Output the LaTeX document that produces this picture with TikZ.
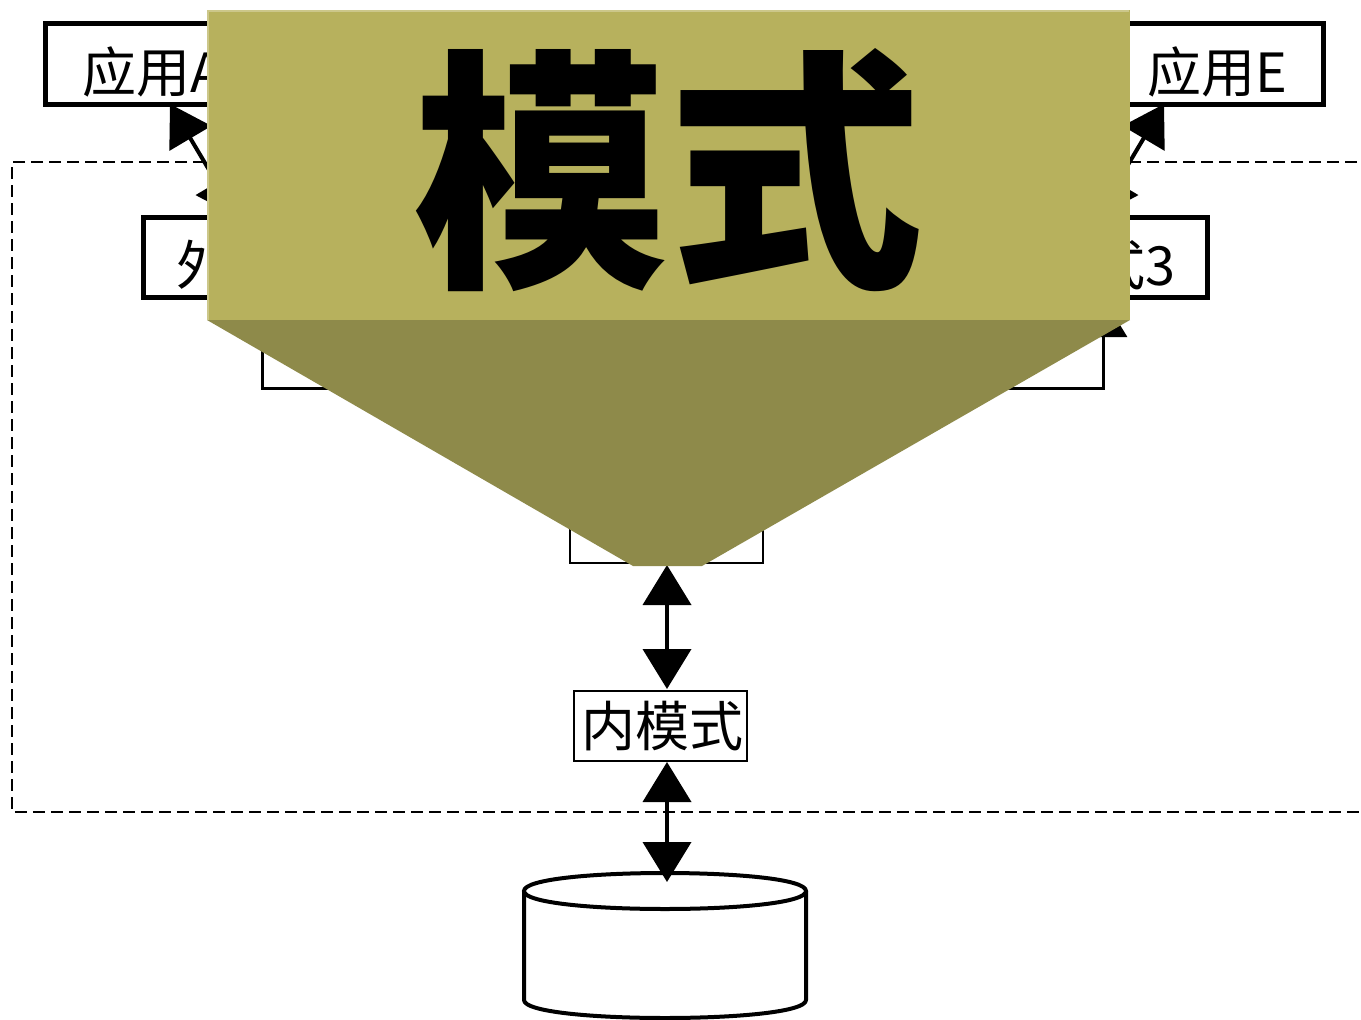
\documentclass[tikz,border=0pt]{standalone}
\usepackage{fontspec}
\usetikzlibrary{arrows.meta}
\newfontfamily\cjk{Noto Sans CJK SC}
\definecolor{bannertop}{HTML}{B7B15D}
\definecolor{bannershade}{HTML}{8E8A4A}
\definecolor{bannerhi}{HTML}{CCC78A}
\begin{document}
\begin{tikzpicture}[x=1pt,y=-1pt,
  thickbox/.style={draw,line width=5pt,fill=white,inner sep=0},
  thinbox/.style={draw,line width=2pt,fill=white,inner sep=0},
  lbl/.style={font=\cjk\fontsize{54}{54}\selectfont,inner sep=0},
  conn/.style={line width=4pt,{Triangle[width=48pt,length=40pt]}-{Triangle[width=48pt,length=40pt]}},
  bracket/.style={line width=3pt,{Triangle[width=48pt,length=40pt]}-},
]
\useasboundingbox (0,0) rectangle (1361,1020);
\fill[white] (0,0) rectangle (1361,1020);
% dashed region
\draw[line width=2pt,dash pattern=on 12pt off 6pt] (1375,162) -- (12,162) -- (12,812) -- (1375,812);
% top boxes
\node[thickbox,minimum width=215pt,minimum height=81pt] (appA) at (152.5,63.5) {};
\node[lbl] (appAt) at (153,72) {应用A};
\node[thickbox,minimum width=213pt,minimum height=81pt] (appE) at (1216.5,63.5) {};
\node[lbl] (appEt) at (1217,72) {应用E};
% external schema boxes
\node[thickbox,minimum width=257pt,minimum height=80pt] (ext1) at (271.5,257) {};
\node[lbl] (ext1t) at (272,265) {外模式1};
\node[thickbox,minimum width=257pt,minimum height=80pt] (ext3) at (1078.5,257) {};
\node[lbl] (ext3t) at (1079,265) {外模式3};
% connection points
\coordinate (pA) at (170,104);
\coordinate (pX1) at (237,217);
\coordinate (pE) at (1164,104);
\coordinate (pX3) at (1097,217);
\coordinate (l1) at (262,297);
\coordinate (r1) at (1103,297);
\coordinate (jn) at (667,388);
\draw[conn] (pA) -- (pX1);
\draw[conn] (pE) -- (pX3);
% schema box and bracket connectors
\node[thinbox,minimum width=193pt,minimum height=70pt] (schema) at (666.5,528) {};
\draw[bracket] (l1) |- (jn);
\draw[bracket] (r1) |- (jn);
\coordinate (s0) at (667,493);
\draw[line width=3pt,-{Triangle[width=48pt,length=40pt]}] (jn) -- (s0);
% internal schema
\node[thinbox,minimum width=173pt,minimum height=70pt] (inner) at (660.5,726) {};
\node[lbl] (innert) at (662,726) {内模式};
\coordinate (s1) at (667,565);
\coordinate (i1) at (667,689);
\coordinate (i2) at (667,762);
\coordinate (db1) at (667,882);
% database cylinder
\draw[line width=4pt,fill=white,line join=round] (524,891) -- (524,1000) .. controls (524,1024) and (806,1024) .. (806,1000) -- (806,891);
\draw[line width=4pt,fill=white] (524,891) .. controls (524,867) and (806,867) .. (806,891) .. controls (806,915) and (524,915) .. (524,891) -- cycle;
\node[inner sep=0,minimum width=282pt,minimum height=145pt] (db) at (665,945) {};
\draw[conn] (s1) -- (i1);
\draw[conn] (i2) -- (db1);
% banner
\fill[bannershade] (207,320) -- (1130,320) -- (702,566) -- (633,566) -- cycle;
\fill[bannertop] (207,10) rectangle (1130,320);
\draw[bannerhi,line width=2pt] (208,320) -- (208,11) -- (1129,11);
\node[font=\cjk\bfseries\fontsize{255}{255}\selectfont,inner sep=0] (title) at (668,170) {模式};
\end{tikzpicture}
\end{document}
